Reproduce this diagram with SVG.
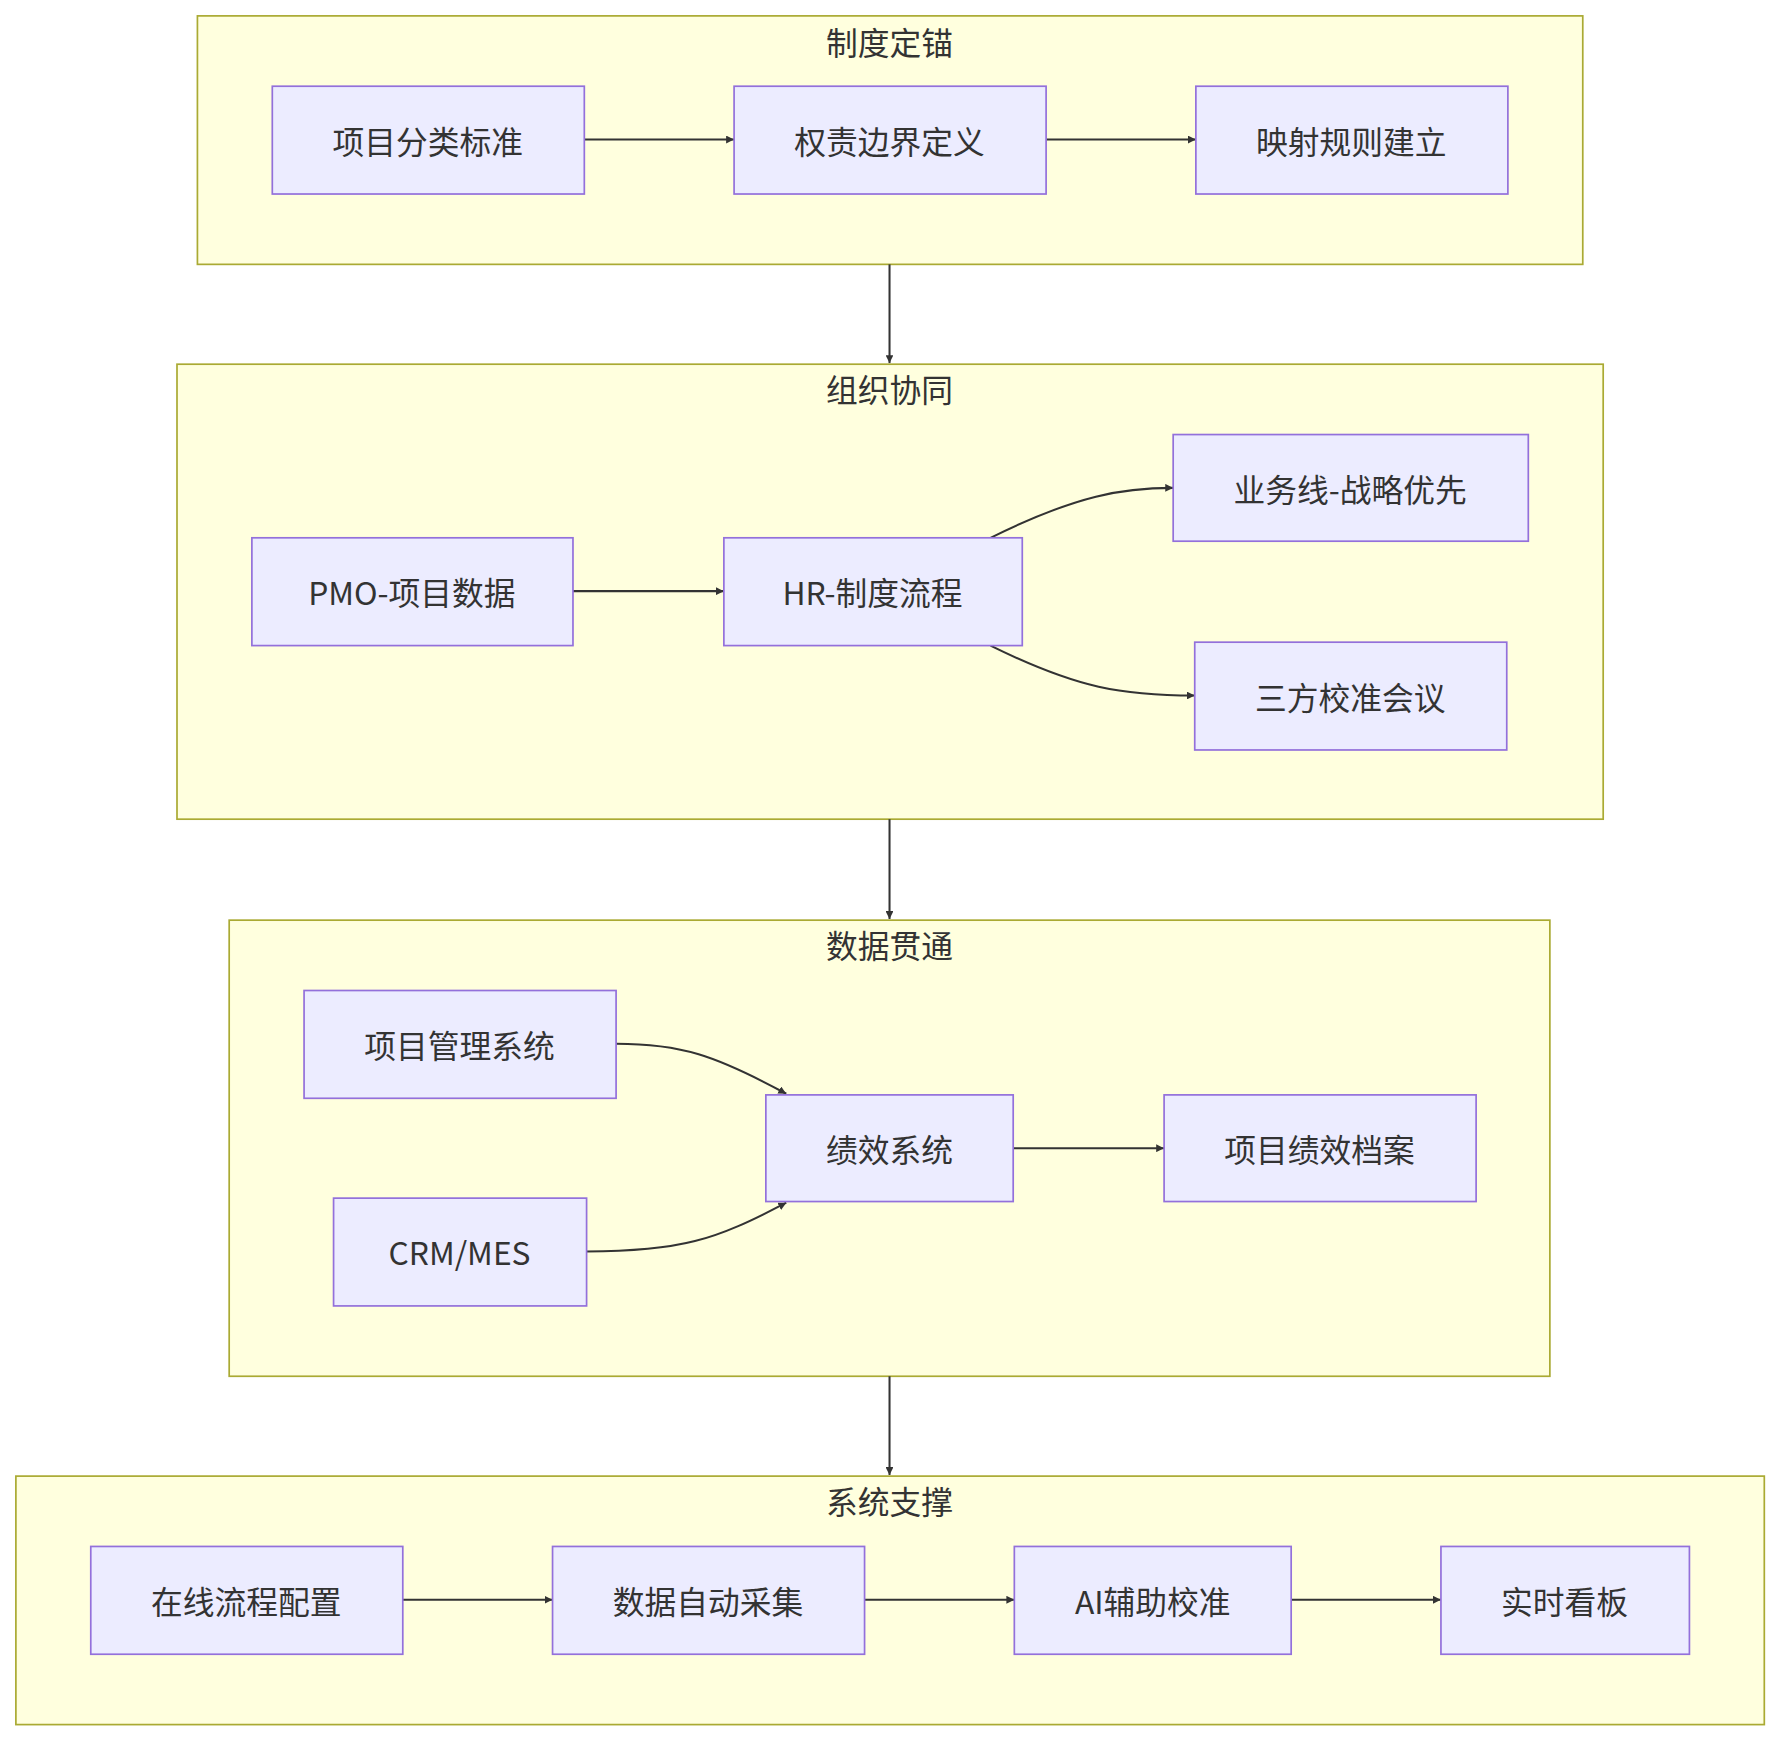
<svg xmlns="http://www.w3.org/2000/svg" width="1779" height="1740" viewBox="0 0 1779 1740">
<style>
.c{fill:#ffffde;stroke:#aaaa33;stroke-width:1.5}
.n{fill:#ececff;stroke:#9370db;stroke-width:1.5}
text{font-family:"Noto Sans CJK SC","Noto Sans",sans-serif;font-size:28px;fill:#333;text-anchor:middle;dominant-baseline:central}
.e{fill:none;stroke:#333;stroke-width:1.8}
</style>
<defs><marker id="a" viewBox="0 0 10 10" refX="10" refY="5" markerWidth="7" markerHeight="7" markerUnits="userSpaceOnUse" orient="auto"><path d="M0,0L10,5L0,10z" fill="#333"/></marker></defs>
<rect width="1779" height="1740" fill="#fff"/>
<g transform="scale(1.1346)">
<g id="cluster1"><rect class="c" x="174" y="14" width="1221" height="219"/><text x="784" y="36">制度定锚</text></g>
<g id="cluster2"><rect class="c" x="156" y="321" width="1257" height="401"/><text x="784" y="342">组织协同</text></g>
<g id="cluster3"><rect class="c" x="202" y="811" width="1164" height="402"/><text x="784" y="832">数据贯通</text></g>
<g id="cluster4"><rect class="c" x="14" y="1301" width="1541" height="219"/><text x="784" y="1322">系统支撑</text></g>
<g id="edges" marker-end="url(#a)">
<path class="e" d="M515,123H647" marker-end="url(#a)"/>
<path class="e" d="M922,123H1054" marker-end="url(#a)"/>
<path class="e" d="M784,233V320" marker-end="url(#a)"/>
<path class="e" d="M505,521H638" marker-end="url(#a)"/>
<path class="e" d="M873,474C950,436 990,430 1034,430" marker-end="url(#a)"/>
<path class="e" d="M873,569C950,607 990,613 1053,613" marker-end="url(#a)"/>
<path class="e" d="M784,722V810" marker-end="url(#a)"/>
<path class="e" d="M543,920C600,920 630,930 693,964" marker-end="url(#a)"/>
<path class="e" d="M517,1103C600,1103 630,1093 693,1060" marker-end="url(#a)"/>
<path class="e" d="M893,1012H1026" marker-end="url(#a)"/>
<path class="e" d="M784,1213V1300" marker-end="url(#a)"/>
<path class="e" d="M355,1410H487" marker-end="url(#a)"/>
<path class="e" d="M762,1410H894" marker-end="url(#a)"/>
<path class="e" d="M1138,1410H1270" marker-end="url(#a)"/>
</g>
<g id="n1"><rect class="n" x="240" y="76" width="275" height="95"/><text x="377" y="123">项目分类标准</text></g>
<g id="n2"><rect class="n" x="647" y="76" width="275" height="95"/><text x="784" y="123">权责边界定义</text></g>
<g id="n3"><rect class="n" x="1054" y="76" width="275" height="95"/><text x="1191" y="123">映射规则建立</text></g>
<g id="n4"><rect class="n" x="222" y="474" width="283" height="95"/><text x="363" y="521">PMO-项目数据</text></g>
<g id="n5"><rect class="n" x="638" y="474" width="263" height="95"/><text x="769" y="521">HR-制度流程</text></g>
<g id="n6"><rect class="n" x="1034" y="383" width="313" height="94"/><text x="1190" y="430">业务线-战略优先</text></g>
<g id="n7"><rect class="n" x="1053" y="566" width="275" height="95"/><text x="1190" y="613">三方校准会议</text></g>
<g id="n8"><rect class="n" x="268" y="873" width="275" height="95"/><text x="405" y="920">项目管理系统</text></g>
<g id="n9"><rect class="n" x="294" y="1056" width="223" height="95"/><text x="405" y="1103">CRM/MES</text></g>
<g id="n10"><rect class="n" x="675" y="965" width="218" height="94"/><text x="784" y="1012">绩效系统</text></g>
<g id="n11"><rect class="n" x="1026" y="965" width="275" height="94"/><text x="1163" y="1012">项目绩效档案</text></g>
<g id="n12"><rect class="n" x="80" y="1363" width="275" height="95"/><text x="217" y="1410">在线流程配置</text></g>
<g id="n13"><rect class="n" x="487" y="1363" width="275" height="95"/><text x="624" y="1410">数据自动采集</text></g>
<g id="n14"><rect class="n" x="894" y="1363" width="244" height="95"/><text x="1016" y="1410">AI辅助校准</text></g>
<g id="n15"><rect class="n" x="1270" y="1363" width="219" height="95"/><text x="1379" y="1410">实时看板</text></g>
</g>
</svg>
